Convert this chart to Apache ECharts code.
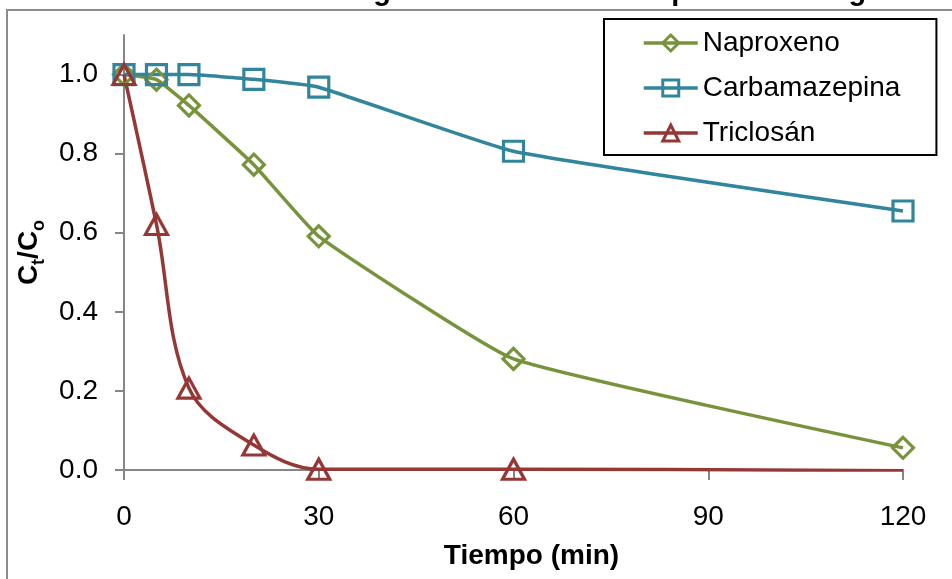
<!DOCTYPE html>
<html>
<head>
<meta charset="utf-8">
<script src="https://cdn.jsdelivr.net/npm/echarts@6/dist/echarts.min.js"></script>
<style>
html,body{margin:0;padding:0;background:#fff;}
#chart{width:952px;height:579px;}
</style>
</head>
<body>
<div id="chart"></div>
<script>
var timeMin = [0, 5, 10, 20, 30, 60, 120];
var naproxeno = [1.0, 0.987, 0.922, 0.772, 0.591, 0.281, 0.056];
var carbamazepina = [1.0, 1.0, 1.0, 0.988, 0.968, 0.806, 0.655];
var triclosan = [1.0, 0.621, 0.207, 0.063, 0.002, 0.002, -0.002];
var xTicks = [0, 30, 60, 90, 120];
var yTicks = [0, 0.2, 0.4, 0.6, 0.8, 1.0];
var seriesNames = ['Naproxeno', 'Carbamazepina', 'Triclosán'];
var titleText = 'Gráfico 5. Cinética de fotodegradación de los compuestos en agua ultrapura';

var FONT = '"Liberation Sans", Arial, sans-serif';
var GREEN = '#77933C', TEAL = '#31859C', RED = '#953735', AXIS = '#868686';

function pairs(vals) { return timeMin.map(function (t, i) { return [t, vals[i]]; }); }

function mkSeries(name, vals, color, symbol, size, smooth) {
  return {
    name: name, type: 'line', data: pairs(vals), smooth: smooth,
    symbol: symbol, symbolSize: size, showSymbol: true,
    lineStyle: { color: color, width: 3.5 },
    itemStyle: { color: 'rgba(255,255,255,0)', borderColor: color, borderWidth: 3.2 },
    emphasis: { disabled: true },
    z: 3
  };
}

var chart = echarts.init(document.getElementById('chart'), null, { renderer: 'canvas' });
chart.setOption({
  animation: false,
  backgroundColor: '#fff',
  textStyle: { fontFamily: FONT },
  grid: { left: 124, right: 49, top: 35, bottom: 109, containLabel: false },
  graphic: [
    { type: 'rect', silent: true, z: -10,
      shape: { x: 7, y: 10, width: 1000, height: 700 },
      style: { fill: 'none', stroke: '#8c8c8c', lineWidth: 2 } },
    { type: 'text', silent: true, x: -20, y: -8,
      style: { text: titleText, font: 'bold 29px ' + FONT, fill: '#000', verticalAlign: 'middle', align: 'left' } }
  ],
  legend: {
    orient: 'vertical', left: 604, top: 19,
    data: seriesNames,
    itemWidth: 54, itemHeight: 20, itemGap: 17,
    padding: [10, 36, 8, 38],
    borderColor: '#000', borderWidth: 2,
    lineStyle: { width: 3.5 },
    itemStyle: { borderWidth: 3 },
    textStyle: { fontSize: 28, color: '#000', fontFamily: FONT, lineHeight: 28 },
    selectedMode: false
  },
  xAxis: {
    type: 'value', min: 0, max: 120, interval: 30,
    name: 'Tiempo (min)', nameLocation: 'middle', nameGap: 72,
    nameTextStyle: { fontSize: 28, fontWeight: 'bold', color: '#000', fontFamily: FONT, padding: [0, 0, 0, 36] },
    axisLine: { show: true, onZero: false, lineStyle: { color: AXIS, width: 2 } },
    axisTick: { show: true, inside: false, length: 10, lineStyle: { color: AXIS, width: 2 }, customValues: xTicks },
    axisLabel: { fontSize: 28, color: '#000', margin: 33, fontFamily: FONT, customValues: xTicks },
    splitLine: { show: false }
  },
  yAxis: {
    type: 'value', min: 0, max: 1.1,
    name: '{b|C}{s|t}{b|/C}{s|o}', nameLocation: 'middle', nameRotate: 90, nameGap: 78,
    nameTextStyle: {
      rich: {
        b: { fontSize: 28, fontWeight: 'bold', color: '#000', fontFamily: FONT, lineHeight: 32, verticalAlign: 'bottom' },
        s: { fontSize: 18, fontWeight: 'bold', color: '#000', fontFamily: FONT, lineHeight: 32, verticalAlign: 'bottom', padding: [0, 0, -5, 0] }
      }
    },
    axisLine: { show: true, onZero: false, lineStyle: { color: AXIS, width: 2 } },
    axisTick: { show: true, inside: false, length: 9, lineStyle: { color: AXIS, width: 2 }, customValues: yTicks },
    axisLabel: { fontSize: 28, color: '#000', margin: 26, fontFamily: FONT, customValues: yTicks,
      formatter: function (v) { return v.toFixed(1); } },
    splitLine: { show: false }
  },
  series: [
    mkSeries(seriesNames[0], naproxeno, GREEN, 'diamond', 21, 0.12),
    mkSeries(seriesNames[1], carbamazepina, TEAL, 'rect', 20, 0.12),
    mkSeries(seriesNames[2], triclosan, RED, 'triangle', [22, 20], 0.35)
  ]
});
</script>
</body>
</html>
